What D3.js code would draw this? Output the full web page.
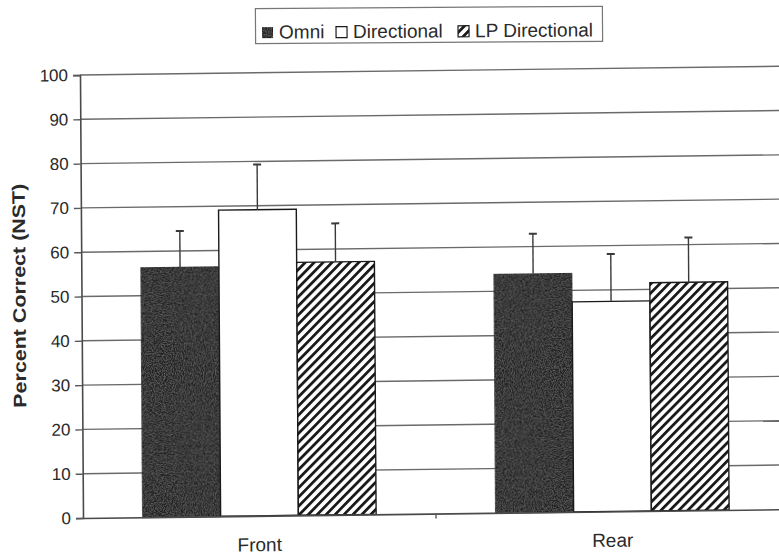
<!DOCTYPE html>
<html>
<head>
<meta charset="utf-8">
<script src="https://cdn.jsdelivr.net/npm/d3@7"></script>
<style>
  html, body { margin: 0; padding: 0; background: #fff; }
  svg { display: block; font-family: "Liberation Sans", Arial, sans-serif; }
</style>
</head>
<body>
<svg id="chart" width="779" height="558"></svg>
<script>
// data
const categories = ['Front', 'Rear'];
const series = ['Omni', 'Directional', 'LP Directional'];
const omniMean = [56.3, 53.9];
const directionalMean = [69.1, 47.4];
const lpMean = [57.1, 51.5];
const omniSd = [8.2, 9.0];
const directionalSd = [10.2, 10.7];
const lpSd = [8.7, 10.1];
const yTicks = [0, 10, 20, 30, 40, 50, 60, 70, 80, 90, 100];

const means = [omniMean, directionalMean, lpMean];
const sds = [omniSd, directionalSd, lpSd];

const rows = [];
categories.forEach((c, ci) => {
  series.forEach((s, si) => {
    rows.push({ cat: c, series: s, mean: means[si][ci], sd: sds[si][ci] });
  });
});

const svg = d3.select('#chart');
const defs = svg.append('defs');

// speckled dark fill (omni)
const noise = defs.append('filter').attr('id', 'speckle')
  .attr('x', 0).attr('y', 0).attr('width', 1).attr('height', 1);
noise.append('feTurbulence').attr('type', 'fractalNoise')
  .attr('baseFrequency', 0.9).attr('numOctaves', 2).attr('seed', 3).attr('result', 'n');
noise.append('feColorMatrix').attr('in', 'n').attr('type', 'matrix')
  .attr('values', '0 0 0 0 0.3  0 0 0 0 0.3  0 0 0 0 0.3  0.9 0 0 0 -0.35')
  .attr('result', 'spots');
noise.append('feComposite').attr('in', 'spots').attr('in2', 'SourceGraphic').attr('operator', 'in').attr('result', 'clipped');
noise.append('feMerge').call(m => {
  m.append('feMergeNode').attr('in', 'SourceGraphic');
  m.append('feMergeNode').attr('in', 'clipped');
});

// diagonal hatch (LP directional)
const hatch = defs.append('pattern').attr('id', 'hatch')
  .attr('patternUnits', 'userSpaceOnUse')
  .attr('width', 6.4).attr('height', 6.4)
  .attr('patternTransform', 'rotate(45)');
hatch.append('rect').attr('width', 6.4).attr('height', 6.4).attr('fill', '#fff');
hatch.append('rect').attr('width', 2.8).attr('height', 6.4).attr('fill', '#1a1a1a');

const fills = {
  'Omni': '#232323',
  'Directional': '#ffffff',
  'LP Directional': 'url(#hatch)'
};

// the scan is slightly skewed: horizontal lines rise to the right, verticals lean right
const x0 = 83, yBase = 518;
const sh = -0.0125, sv = 0.0068;
const g = svg.append('g')
  .attr('transform', `matrix(1,${sh},${sv},1,${-sv * yBase},${-sh * x0})`);

const x = d3.scaleBand().domain(categories).range([x0, 789]).paddingInner(0).paddingOuter(0);
const xs = d3.scaleBand().domain(series).range([0, x.bandwidth()]).paddingInner(0).paddingOuter(0.77);
const y = d3.scaleLinear().domain([0, 100]).range([yBase, 75]);

// gridlines
g.append('g').selectAll('line').data(yTicks.filter(d => d > 0)).join('line')
  .attr('x1', x0).attr('x2', 800)
  .attr('y1', d => y(d)).attr('y2', d => y(d))
  .attr('stroke', '#6a6a6a').attr('stroke-width', 1.4);

// y axis
const yAxis = g.append('g').attr('transform', `translate(${x0},0)`)
  .call(d3.axisLeft(y).tickValues(yTicks).tickSize(7).tickPadding(5));
yAxis.select('.domain').attr('stroke', '#4a4a4a').attr('stroke-width', 1.6);
yAxis.selectAll('.tick line').attr('stroke', '#5a5a5a').attr('stroke-width', 1.4);
yAxis.selectAll('.tick text').attr('font-size', 17).attr('fill', '#2a2a2a')
  .attr('font-family', '"Liberation Sans", Arial, sans-serif');

// bars
g.append('g').selectAll('rect').data(rows).join('rect')
  .attr('x', d => x(d.cat) + xs(d.series))
  .attr('width', xs.bandwidth())
  .attr('y', d => y(d.mean))
  .attr('height', d => y(0) - y(d.mean))
  .attr('fill', d => fills[d.series])
  .attr('filter', d => d.series === 'Omni' ? 'url(#speckle)' : null)
  .attr('stroke', '#1a1a1a').attr('stroke-width', 1.4);

// error bars (upper only)
const eb = g.append('g').attr('stroke', '#3a3a3a').attr('stroke-width', 1.4);
eb.selectAll('line.v').data(rows).join('line').attr('class', 'v')
  .attr('x1', d => x(d.cat) + xs(d.series) + xs.bandwidth() / 2)
  .attr('x2', d => x(d.cat) + xs(d.series) + xs.bandwidth() / 2)
  .attr('y1', d => y(d.mean)).attr('y2', d => y(d.mean + d.sd));
eb.selectAll('line.c').data(rows).join('line').attr('class', 'c')
  .attr('x1', d => x(d.cat) + xs(d.series) + xs.bandwidth() / 2 - 4)
  .attr('x2', d => x(d.cat) + xs(d.series) + xs.bandwidth() / 2 + 4)
  .attr('y1', d => y(d.mean + d.sd)).attr('y2', d => y(d.mean + d.sd))
  .attr('stroke-width', 2);

// x axis
const xAxis = g.append('g').attr('transform', `translate(0,${yBase})`)
  .call(d3.axisBottom(x).tickSize(0).tickPadding(22));
xAxis.select('.domain').attr('stroke', '#4a4a4a').attr('stroke-width', 1.6);
xAxis.selectAll('.tick text').attr('font-size', 19).attr('fill', '#2a2a2a')
  .attr('font-family', '"Liberation Sans", Arial, sans-serif');
// category separator ticks
g.append('g').selectAll('line').data(categories.slice(1)).join('line')
  .attr('x1', d => x(d)).attr('x2', d => x(d))
  .attr('y1', yBase).attr('y2', yBase + 5)
  .attr('stroke', '#5a5a5a').attr('stroke-width', 1.4);

// y axis title
g.append('text')
  .attr('transform', 'translate(27,295) rotate(-90)')
  .attr('text-anchor', 'middle')
  .attr('font-size', 18).attr('font-weight', 'bold').attr('fill', '#2a2a2a')
  .attr('textLength', 224).attr('lengthAdjust', 'spacingAndGlyphs')
  .text('Percent Correct (NST)');

// legend
const legend = svg.append('g').attr('transform', 'rotate(-0.4, 430, 25)');
legend.append('rect')
  .attr('x', 255.5).attr('y', 7.5).attr('width', 347).attr('height', 35)
  .attr('fill', '#fff').attr('stroke', '#777').attr('stroke-width', 1.2);
const legendX = [262, 336, 458];
series.forEach((s, i) => {
  legend.append('rect')
    .attr('x', legendX[i]).attr('y', 26).attr('width', 11).attr('height', 11)
    .attr('fill', fills[s])
    .attr('filter', s === 'Omni' ? 'url(#speckle)' : null)
    .attr('stroke', '#1a1a1a').attr('stroke-width', 1.2);
  legend.append('text')
    .attr('x', legendX[i] + 17).attr('y', 37.5)
    .attr('font-size', 19).attr('fill', '#2a2a2a')
    .text(s);
});
</script>
</body>
</html>
